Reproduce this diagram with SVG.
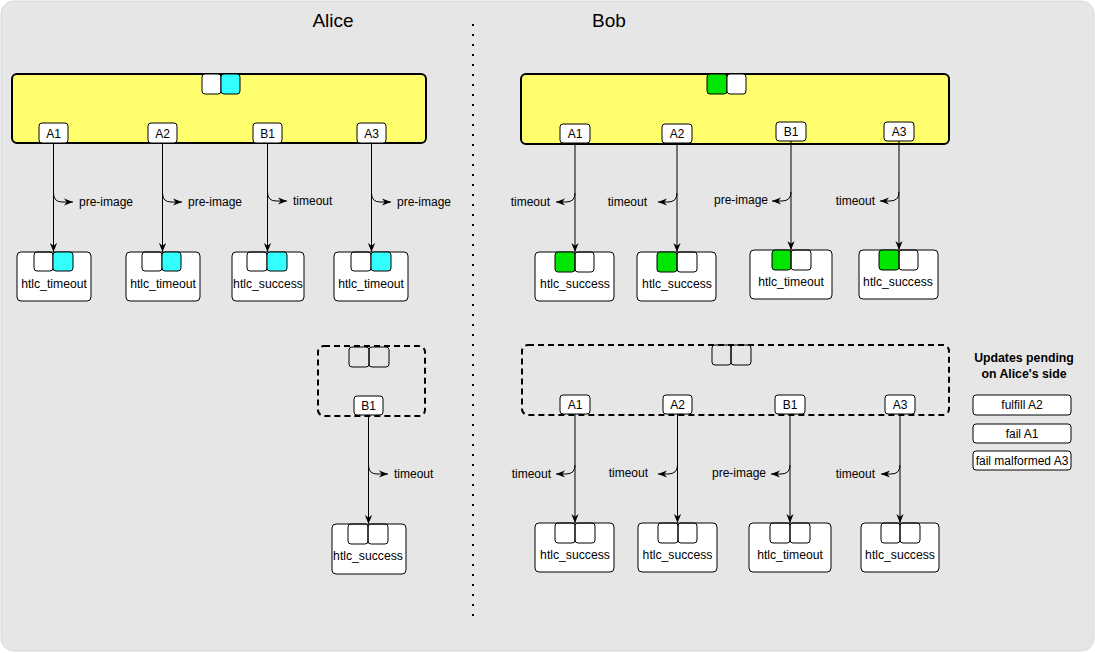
<svg xmlns="http://www.w3.org/2000/svg" width="1095" height="653" viewBox="0 0 1095 653">
<defs>
<style>
text{font-family:"Liberation Sans",Arial,Helvetica,sans-serif;fill:#000}
.t{font-size:12.2px;text-anchor:middle}
.e{font-size:12px}
.er{font-size:12px;text-anchor:end}
.lb{font-size:12px;text-anchor:middle}
.title{font-size:19px;text-anchor:middle}
.box{fill:#fff;stroke:#000;stroke-width:1}
.cy{fill:#33ffff;stroke:#000;stroke-width:1}
.gr{fill:#00e600;stroke:#000;stroke-width:1}
.sm{fill:none;stroke:#000;stroke-width:1}
.yel{fill:#ffff6e;stroke:#000;stroke-width:2}
.dash{fill:none;stroke:#000;stroke-width:2;stroke-dasharray:6 4}
.ln{fill:none;stroke:#000;stroke-width:1}
</style>
<marker id="ah" viewBox="0 0 10 8" refX="10" refY="4" markerWidth="9" markerHeight="7.5" markerUnits="userSpaceOnUse" orient="auto">
<path d="M0,0 L10,4 L0,8 L3,4 Z" fill="#000"/>
</marker>
</defs>
<rect x="1" y="1" width="1093" height="650" rx="13" fill="#e6e6e6" stroke="#d8d8d8" stroke-width="1"/>
<line x1="473" y1="24" x2="473" y2="616" stroke="#000" stroke-width="2" stroke-dasharray="2 8"/>
<text class="title" x="333" y="27">Alice</text>
<text class="title" x="609" y="27">Bob</text>

<g id="alice-commit">
<rect class="yel" x="12" y="74" width="414" height="69" rx="5"/>
<rect class="box" x="202" y="74" width="19" height="20" rx="3"/>
<rect class="cy" x="221" y="74" width="19" height="20" rx="3"/>
<rect class="box" x="39" y="123" width="29" height="20" rx="3"/><text class="lb" x="53.5" y="137.5">A1</text>
<rect class="box" x="148" y="123" width="29" height="20" rx="3"/><text class="lb" x="162.5" y="137.5">A2</text>
<rect class="box" x="253" y="123" width="29" height="20" rx="3"/><text class="lb" x="267.5" y="137.5">B1</text>
<rect class="box" x="357" y="123" width="29" height="20" rx="3"/><text class="lb" x="371.5" y="137.5">A3</text>
</g>
<g id="alice-a1-tx"><rect class="box" x="17" y="252" width="74" height="49" rx="4"/><rect class="sm" x="34" y="252" width="19" height="19" rx="3"/><rect class="cy" x="53" y="252" width="20" height="19" rx="3"/><text class="t" x="54" y="288">htlc_timeout</text></g>
<g id="alice-a2-tx"><rect class="box" x="126" y="252" width="74" height="49" rx="4"/><rect class="sm" x="142" y="252" width="20" height="19" rx="3"/><rect class="cy" x="162" y="252" width="19" height="19" rx="3"/><text class="t" x="163" y="288">htlc_timeout</text></g>
<g id="alice-b1-tx"><rect class="box" x="232" y="252" width="72" height="49" rx="4"/><rect class="sm" x="247" y="252" width="20" height="19" rx="3"/><rect class="cy" x="267" y="252" width="20" height="19" rx="3"/><text class="t" x="268" y="288">htlc_success</text></g>
<g id="alice-a3-tx"><rect class="box" x="334" y="252" width="74" height="49" rx="4"/><rect class="sm" x="351" y="252" width="20" height="19" rx="3"/><rect class="cy" x="371" y="252" width="20" height="19" rx="3"/><text class="t" x="371" y="288">htlc_timeout</text></g>

<g id="alice-pending">
<rect class="dash" x="318" y="346" width="107" height="70" rx="6"/>
<rect class="sm" x="349" y="347" width="20" height="20" rx="3"/>
<rect class="sm" x="369" y="347" width="20" height="20" rx="3"/>
<rect class="box" x="354" y="396" width="29" height="19" rx="3"/><text class="lb" x="368.5" y="410">B1</text>
</g>
<g id="alice-pb1-tx"><rect class="box" x="332" y="524" width="74" height="50" rx="4"/><rect class="sm" x="348" y="524" width="20" height="20" rx="3"/><rect class="sm" x="368" y="524" width="20" height="20" rx="3"/><text class="t" x="368" y="560">htlc_success</text></g>

<g id="bob-commit">
<rect class="yel" x="521" y="74" width="428" height="70" rx="5"/>
<rect class="gr" x="707" y="74" width="20" height="20" rx="3"/>
<rect class="box" x="727" y="74" width="19" height="20" rx="3"/>
<rect class="box" x="560" y="124" width="30" height="19" rx="3"/><text class="lb" x="575" y="138">A1</text>
<rect class="box" x="662" y="124" width="30" height="19" rx="3"/><text class="lb" x="677" y="138">A2</text>
<rect class="box" x="776" y="122" width="30" height="19" rx="3"/><text class="lb" x="791" y="136">B1</text>
<rect class="box" x="884" y="122" width="30" height="19" rx="3"/><text class="lb" x="899" y="136">A3</text>
</g>
<g id="bob-a1-tx"><rect class="box" x="535" y="252" width="79" height="49" rx="4"/><rect class="gr" x="555" y="252" width="20" height="20" rx="3"/><rect class="sm" x="575" y="252" width="19" height="20" rx="3"/><text class="t" x="575" y="288">htlc_success</text></g>
<g id="bob-a2-tx"><rect class="box" x="637" y="252" width="79" height="49" rx="4"/><rect class="gr" x="657" y="252" width="20" height="20" rx="3"/><rect class="sm" x="677" y="252" width="20" height="20" rx="3"/><text class="t" x="677" y="288">htlc_success</text></g>
<g id="bob-b1-tx"><rect class="box" x="750" y="250" width="82" height="49" rx="4"/><rect class="gr" x="772" y="250" width="19" height="20" rx="3"/><rect class="sm" x="791" y="250" width="20" height="20" rx="3"/><text class="t" x="791" y="286">htlc_timeout</text></g>
<g id="bob-a3-tx"><rect class="box" x="859" y="250" width="79" height="49" rx="4"/><rect class="gr" x="879" y="250" width="20" height="20" rx="3"/><rect class="sm" x="899" y="250" width="19" height="20" rx="3"/><text class="t" x="898" y="286">htlc_success</text></g>

<g id="bob-pending">
<rect class="dash" x="522" y="345" width="427" height="70" rx="6"/>
<rect class="sm" x="712" y="345" width="19" height="20" rx="3"/>
<rect class="sm" x="731" y="345" width="20" height="20" rx="3"/>
<rect class="box" x="560" y="395" width="30" height="19" rx="3"/><text class="lb" x="575" y="409">A1</text>
<rect class="box" x="663" y="395" width="29" height="19" rx="3"/><text class="lb" x="677.5" y="409">A2</text>
<rect class="box" x="775" y="395" width="30" height="19" rx="3"/><text class="lb" x="790" y="409">B1</text>
<rect class="box" x="885" y="395" width="30" height="19" rx="3"/><text class="lb" x="900" y="409">A3</text>
</g>
<g id="bob-pa1-tx"><rect class="box" x="535" y="523" width="79" height="49" rx="4"/><rect class="sm" x="555" y="523" width="20" height="20" rx="3"/><rect class="sm" x="575" y="523" width="20" height="20" rx="3"/><text class="t" x="575" y="559">htlc_success</text></g>
<g id="bob-pa2-tx"><rect class="box" x="638" y="523" width="79" height="49" rx="4"/><rect class="sm" x="658" y="523" width="20" height="20" rx="3"/><rect class="sm" x="678" y="523" width="19" height="20" rx="3"/><text class="t" x="677.5" y="559">htlc_success</text></g>
<g id="bob-pb1-tx"><rect class="box" x="749" y="523" width="82" height="49" rx="4"/><rect class="sm" x="770" y="523" width="20" height="20" rx="3"/><rect class="sm" x="790" y="523" width="20" height="20" rx="3"/><text class="t" x="790" y="559">htlc_timeout</text></g>
<g id="bob-pa3-tx"><rect class="box" x="861" y="523" width="78" height="49" rx="4"/><rect class="sm" x="881" y="523" width="19" height="20" rx="3"/><rect class="sm" x="900" y="523" width="20" height="20" rx="3"/><text class="t" x="900" y="559">htlc_success</text></g>

<g id="updates-pending">
<text x="1024" y="362" style="font-size:12.3px;font-weight:bold;text-anchor:middle">Updates pending</text>
<text x="1024" y="378" style="font-size:12.3px;font-weight:bold;text-anchor:middle">on Alice's side</text>
<rect class="box" x="973" y="395" width="98" height="20" rx="3"/><text class="lb" x="1022" y="409">fulfill A2</text>
<rect class="box" x="973" y="424" width="98" height="19" rx="3"/><text class="lb" x="1022" y="438">fail A1</text>
<rect class="box" x="973" y="451" width="98" height="19" rx="3"/><text class="lb" x="1022" y="465">fail malformed A3</text>
</g>

<g id="connectors">
<g marker-end="url(#ah)" class="ln">
<path class="ln" d="M53.5,143 V252"/>
<path class="ln" d="M162.5,143 V252"/>
<path class="ln" d="M267.5,143 V252"/>
<path class="ln" d="M371.5,143 V252"/>
<path class="ln" d="M53.5,193 Q53.5,202 62,202 H73"/>
<path class="ln" d="M162.5,193 Q162.5,202 171,202 H182"/>
<path class="ln" d="M267.5,192 Q267.5,201 276,201 H287"/>
<path class="ln" d="M371.5,193 Q371.5,202 380,202 H391"/>
<path class="ln" d="M368.5,415 V524"/>
<path class="ln" d="M368.5,465 Q368.5,474 377,474 H388"/>
<path class="ln" d="M575,143 V252"/>
<path class="ln" d="M677,143 V252"/>
<path class="ln" d="M791,141 V250"/>
<path class="ln" d="M899,141 V250"/>
<path class="ln" d="M575,193 Q575,202 566,202 H556"/>
<path class="ln" d="M677,193 Q677,202 668,202 H658"/>
<path class="ln" d="M791,192 Q791,201 782,201 H772"/>
<path class="ln" d="M899,192 Q899,201 890,201 H880"/>
<path class="ln" d="M575,414 V523"/>
<path class="ln" d="M677.5,414 V523"/>
<path class="ln" d="M790,414 V523"/>
<path class="ln" d="M900,414 V523"/>
<path class="ln" d="M575,465 Q575,474 566,474 H556"/>
<path class="ln" d="M677.5,465 Q677.5,474 668,474 H658"/>
<path class="ln" d="M790,465 Q790,474 781,474 H771"/>
<path class="ln" d="M900,465 Q900,474 891,474 H881"/>
</g>
<text class="e" x="79" y="206">pre-image</text>
<text class="e" x="188" y="206">pre-image</text>
<text class="e" x="293" y="205">timeout</text>
<text class="e" x="397" y="206">pre-image</text>
<text class="e" x="394" y="478">timeout</text>
<text class="er" x="550" y="206">timeout</text>
<text class="er" x="647" y="206">timeout</text>
<text class="er" x="768" y="204">pre-image</text>
<text class="er" x="875" y="205">timeout</text>
<text class="er" x="551" y="478">timeout</text>
<text class="er" x="648" y="477">timeout</text>
<text class="er" x="766" y="477">pre-image</text>
<text class="er" x="875" y="478">timeout</text>
</g>
</svg>
